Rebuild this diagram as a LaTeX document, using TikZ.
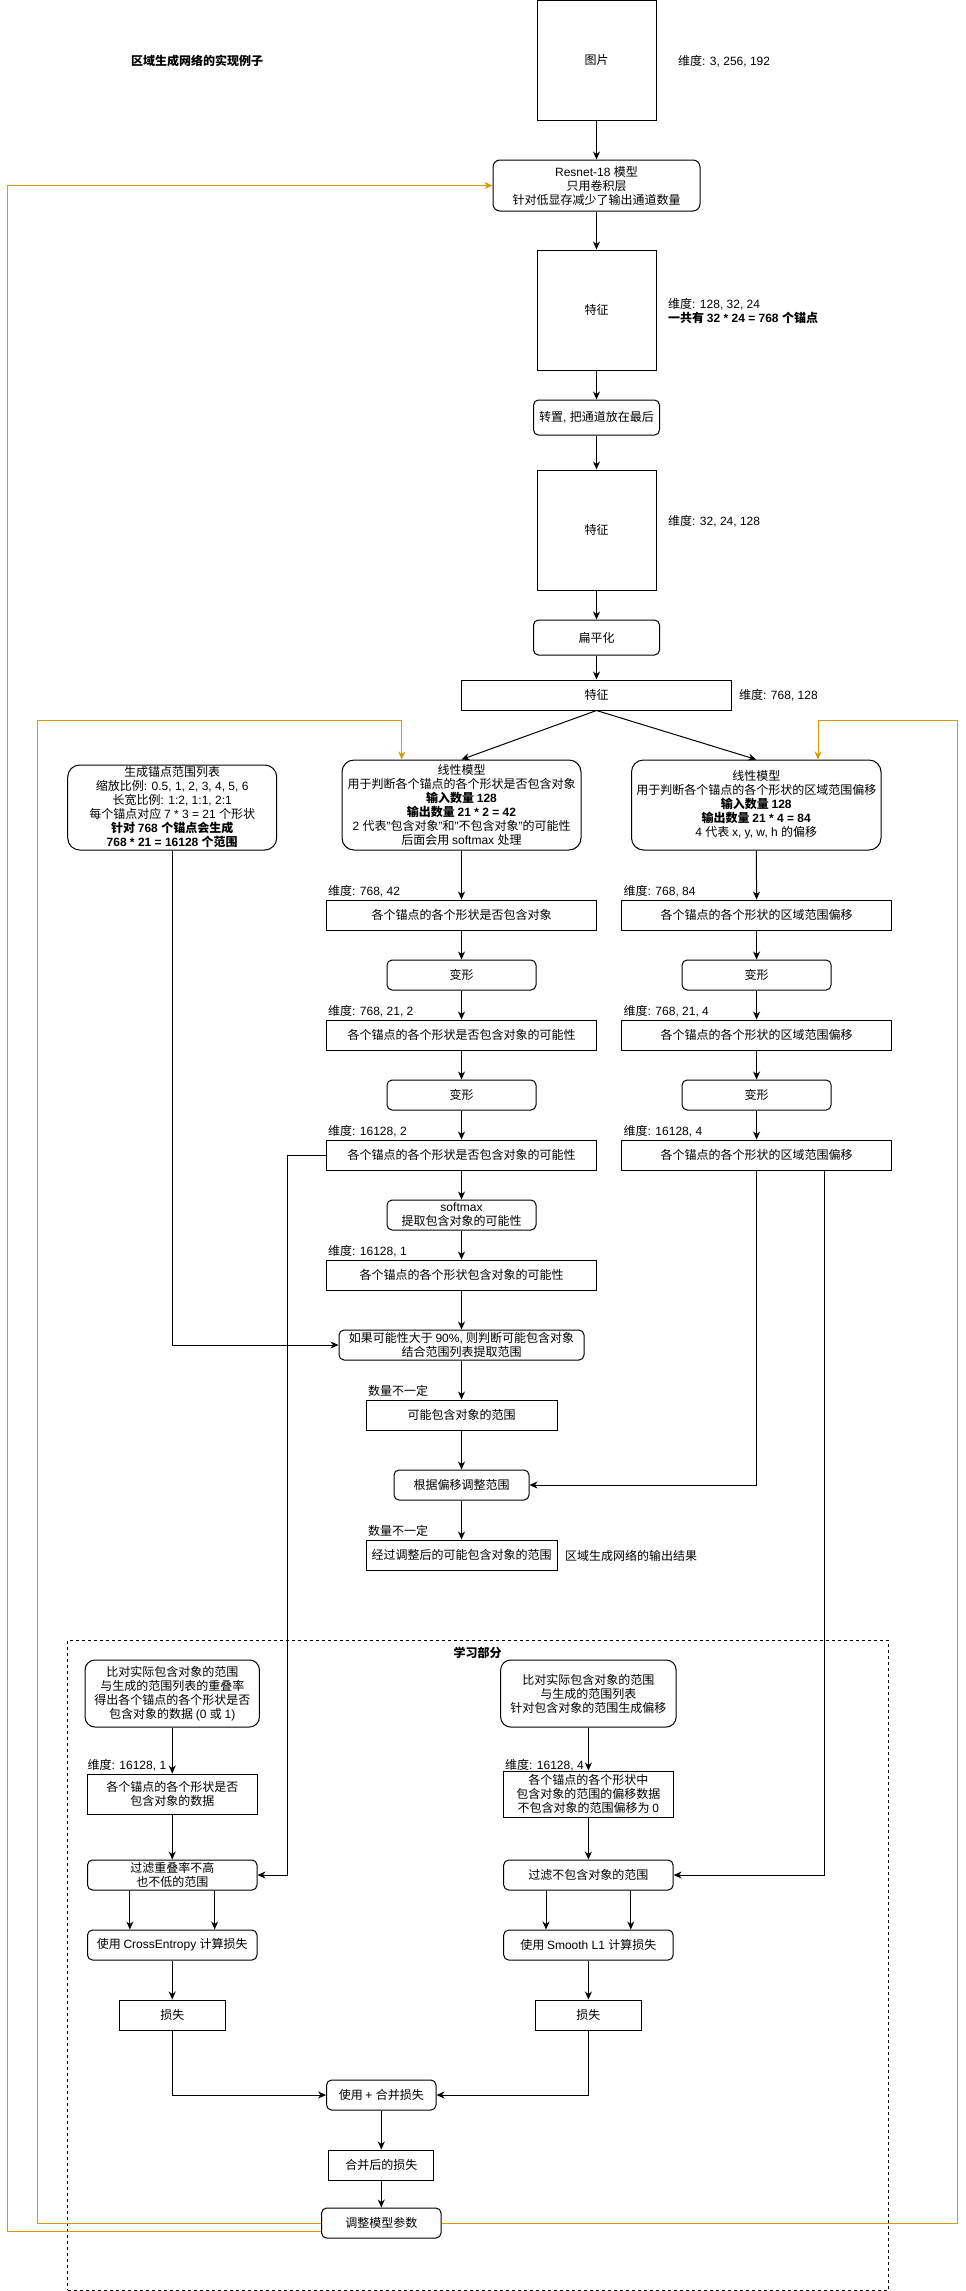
\documentclass[tikz,border=0pt]{standalone}
\usepackage{fontspec}
\setmainfont{Liberation Sans}
\newfontfamily\cjk{Noto Sans CJK SC}
\XeTeXinterchartokenstate=1
\newXeTeXintercharclass\CJKcls
\count255="4E00
\loop
  \XeTeXcharclass\count255=\CJKcls
  \ifnum\count255<"9FFF
  \advance\count255 by 1
\repeat
\XeTeXinterchartoks 0 \CJKcls = {\cjk}
\XeTeXinterchartoks 4095 \CJKcls = {\cjk}
\XeTeXinterchartoks \CJKcls 0 = {\rmfamily}
\XeTeXinterchartoks 4095 0 = {\rmfamily}
\usetikzlibrary{arrows.meta}
\definecolor{draworange}{HTML}{D79B00}
\tikzset{
  base/.style={font=\fontsize{12}{14}\selectfont, align=center, inner sep=0pt},
  box/.style={base, draw, line width=1pt, fill=white},
  rbox/.style={box, rounded corners=5pt},
  lbl/.style={base, anchor=west},
  arr/.style={line width=1pt, -{Stealth[length=8pt,width=7pt,inset=2.5pt]}},
  oline/.style={arr, draw=draworange},
}
\begin{document}
\begin{tikzpicture}[x=1pt,y=-1pt]
\useasboundingbox (0,0) rectangle (966,2291);
% learning group
\node[draw, dashed, line width=1pt, dash pattern=on 3pt off 3pt, minimum width=820.7pt, minimum height=650pt, inner sep=0pt] (learn) at (478.15,1965) {};
\node[base] (learntitle) at (477.5,1653) {\bfseries 学习部分};

\node[base] (title) at (197,61) {\bfseries 区域生成网络的实现例子};

% main column
\node[box, minimum width=119pt, minimum height=119.5pt] (img) at (596.5,60.25) {图片};
\node[lbl] (dimimg) at (678,61) {维度: 3, 256, 192};
\node[rbox, rounded corners=7pt, minimum width=207pt, minimum height=51pt] (resnet) at (596.5,185.5) {Resnet-18 模型\\只用卷积层\\针对低显存减少了输出通道数量};
\node[box, minimum width=119pt, minimum height=120pt] (feat1) at (596.5,310) {特征};
\node[lbl, align=left] (dimf1) at (668,311) {维度: 128, 32, 24\\\bfseries 一共有 32 * 24 = 768 个锚点};
\node[rbox, minimum width=126pt, minimum height=35pt] (trans) at (596.5,417.5) {转置, 把通道放在最后};
\node[box, minimum width=119pt, minimum height=120pt] (feat2) at (596.5,530) {特征};
\node[lbl] (dimf2) at (668,520.7) {维度: 32, 24, 128};
\node[rbox, minimum width=126pt, minimum height=35pt] (flat) at (596.5,637.5) {扁平化};
\node[box, minimum width=269.5pt, minimum height=30pt] (feat3) at (596.5,695) {特征};
\node[lbl] (dimf3) at (739,695) {维度: 768, 128};

% three top boxes
\node[rbox, rounded corners=12pt, minimum width=209pt, minimum height=85pt] (anchor) at (172.2,807.5) {生成锚点范围列表\\缩放比例: 0.5, 1, 2, 3, 4, 5, 6\\长宽比例: 1:2, 1:1, 2:1\\每个锚点对应 7 * 3 = 21 个形状\\\textbf{针对 768 个锚点会生成}\\\textbf{768 * 21 = 16128 个范围}};
\node[rbox, rounded corners=12pt, minimum width=239pt, minimum height=90pt] (linL) at (461.5,805) {线性模型\\用于判断各个锚点的各个形状是否包含对象\\\textbf{输入数量 128}\\\textbf{输出数量 21 * 2 = 42}\\2 代表"包含对象"和"不包含对象"的可能性\\后面会用 softmax 处理};
\node[rbox, rounded corners=12pt, minimum width=249.5pt, minimum height=90pt] (linR) at (756.25,805) {线性模型\\用于判断各个锚点的各个形状的区域范围偏移\\\textbf{输入数量 128}\\\textbf{输出数量 21 * 4 = 84}\\4 代表 x, y, w, h 的偏移};

% left column
\node[lbl] (dL1) at (328,891) {维度: 768, 42};
\node[box, minimum width=270pt, minimum height=30pt] (L1) at (461.5,915) {各个锚点的各个形状是否包含对象};
\node[rbox, minimum width=149pt, minimum height=30pt] (defL1) at (461.5,975) {变形};
\node[lbl] (dL2) at (328,1011) {维度: 768, 21, 2};
\node[box, minimum width=270pt, minimum height=30pt] (L2) at (461.5,1035) {各个锚点的各个形状是否包含对象的可能性};
\node[rbox, minimum width=149pt, minimum height=30pt] (defL2) at (461.5,1095) {变形};
\node[lbl] (dL3) at (328,1130.7) {维度: 16128, 2};
\node[box, minimum width=270pt, minimum height=30pt] (L3) at (461.5,1155) {各个锚点的各个形状是否包含对象的可能性};
\node[rbox, minimum width=149pt, minimum height=30pt] (soft) at (461.5,1215) {softmax\\提取包含对象的可能性};
\node[lbl] (dL4) at (328,1250.7) {维度: 16128, 1};
\node[box, minimum width=270pt, minimum height=30pt] (L4) at (461.5,1275) {各个锚点的各个形状包含对象的可能性};
\node[rbox, minimum width=245pt, minimum height=30pt] (ifbox) at (461.5,1345) {如果可能性大于 90\%, 则判断可能包含对象\\结合范围列表提取范围};
\node[lbl] (cnt1) at (368,1390.7) {数量不一定};
\node[box, minimum width=191pt, minimum height=30pt] (poss) at (461.5,1415) {可能包含对象的范围};
\node[rbox, minimum width=135pt, minimum height=30pt] (adj) at (461.5,1485) {根据偏移调整范围};
\node[lbl] (cnt2) at (368,1530.7) {数量不一定};
\node[box, minimum width=191pt, minimum height=30pt] (out) at (461.5,1555) {经过调整后的可能包含对象的范围};
\node[lbl] (outlbl) at (565,1556) {区域生成网络的输出结果};

% right column
\node[lbl] (dR1) at (623.5,891) {维度: 768, 84};
\node[box, minimum width=270pt, minimum height=30pt] (R1) at (756.6,915) {各个锚点的各个形状的区域范围偏移};
\node[rbox, minimum width=149pt, minimum height=30pt] (defR1) at (756.6,975) {变形};
\node[lbl] (dR2) at (623.5,1011) {维度: 768, 21, 4};
\node[box, minimum width=270pt, minimum height=30pt] (R2) at (756.6,1035) {各个锚点的各个形状的区域范围偏移};
\node[rbox, minimum width=149pt, minimum height=30pt] (defR2) at (756.6,1095) {变形};
\node[lbl] (dR3) at (623.5,1130.7) {维度: 16128, 4};
\node[box, minimum width=270pt, minimum height=30pt] (R3) at (756.6,1155) {各个锚点的各个形状的区域范围偏移};

% learning part
\node[rbox, rounded corners=10pt, minimum width=174.4pt, minimum height=67pt] (cmpL) at (172.25,1693.5) {比对实际包含对象的范围\\与生成的范围列表的重叠率\\得出各个锚点的各个形状是否\\包含对象的数据 (0 或 1)};
\node[rbox, rounded corners=10pt, minimum width=175.5pt, minimum height=67pt] (cmpR) at (588.4,1693.5) {比对实际包含对象的范围\\与生成的范围列表\\针对包含对象的范围生成偏移};
\node[lbl] (dLL) at (87.5,1764.7) {维度: 16128, 1};
\node[box, minimum width=169.5pt, minimum height=40pt] (dataL) at (172.25,1794) {各个锚点的各个形状是否\\包含对象的数据};
\node[lbl] (dRR) at (505,1764.7) {维度: 16128, 4};
\node[box, minimum width=169.4pt, minimum height=46pt] (dataR) at (588.4,1794) {各个锚点的各个形状中\\包含对象的范围的偏移数据\\不包含对象的范围偏移为 0};
\node[rbox, minimum width=169.5pt, minimum height=30pt] (filtL) at (172.25,1875) {过滤重叠率不高\\也不低的范围};
\node[rbox, minimum width=169.4pt, minimum height=30pt] (filtR) at (588.4,1875) {过滤不包含对象的范围};
\node[rbox, minimum width=169.5pt, minimum height=30pt] (ceL) at (172.25,1945) {使用 CrossEntropy 计算损失};
\node[rbox, minimum width=169.4pt, minimum height=30pt] (slR) at (588.4,1945) {使用 Smooth L1 计算损失};
\node[box, minimum width=105.5pt, minimum height=30pt] (lossL) at (172.25,2015) {损失};
\node[box, minimum width=106pt, minimum height=30pt] (lossR) at (588.4,2015) {损失};
\node[rbox, minimum width=109.4pt, minimum height=30pt] (merge) at (381.3,2095) {使用 + 合并损失};
\node[box, minimum width=104.8pt, minimum height=30pt] (merged) at (381.3,2165) {合并后的损失};
\node[rbox, minimum width=119.4pt, minimum height=30pt] (tune) at (381.3,2223) {调整模型参数};

% helper coordinates
\coordinate (oL) at (7.4,0);
\coordinate (oL2) at (37.6,720);
\coordinate (oR2) at (957,720);
\coordinate (jL) at (287.7,0);

% main connectors
\draw[arr] (img) -- (resnet);
\draw[arr] (resnet) -- (feat1);
\draw[arr] (feat1) -- (trans);
\draw[arr] (trans) -- (feat2);
\draw[arr] (feat2) -- (flat);
\draw[arr] (flat) -- (feat3);
\draw[arr] (feat3.south) -- (linL.north);
\draw[arr] (feat3.south) -- (linR.north);

\draw[arr] (linL) -- (L1);
\draw[arr] (L1) -- (defL1);
\draw[arr] (defL1) -- (L2);
\draw[arr] (L2) -- (defL2);
\draw[arr] (defL2) -- (L3);
\draw[arr] (L3) -- (soft);
\draw[arr] (soft) -- (L4);
\draw[arr] (L4) -- (ifbox);
\draw[arr] (ifbox) -- (poss);
\draw[arr] (poss) -- (adj);
\draw[arr] (adj) -- (out);

\draw[arr] (linR) -- (R1);
\draw[arr] (R1) -- (defR1);
\draw[arr] (defR1) -- (R2);
\draw[arr] (R2) -- (defR2);
\draw[arr] (defR2) -- (R3);

\draw[arr] (anchor.south) |- (ifbox.west);
\draw[arr] (R3.south) |- (adj.east);
\draw[arr] ([xshift=67.5pt]R3.south) |- (filtR.east);
\draw[arr] (L3.west) -- (L3.west -| jL) |- (filtL.east);

\draw[arr] (cmpL) -- (dataL);
\draw[arr] (dataL) -- (filtL);
\draw[arr] ([xshift=-42.4pt]filtL.south) -- ([xshift=-42.4pt]ceL.north);
\draw[arr] ([xshift=42.4pt]filtL.south) -- ([xshift=42.4pt]ceL.north);
\draw[arr] (ceL) -- (lossL);
\draw[arr] (lossL.south) |- (merge.west);

\draw[arr] (cmpR) -- (dataR);
\draw[arr] (dataR) -- (filtR);
\draw[arr] ([xshift=-42.4pt]filtR.south) -- ([xshift=-42.4pt]slR.north);
\draw[arr] ([xshift=42.4pt]filtR.south) -- ([xshift=42.4pt]slR.north);
\draw[arr] (slR) -- (lossR);
\draw[arr] (lossR.south) |- (merge.east);

\draw[arr] (merge) -- (merged);
\draw[arr] (merged) -- (tune);

% feedback (orange)
\draw[oline] ([yshift=-8pt]tune.west) -| (oL |- resnet.west) -- (resnet.west);
\draw[oline] (tune.west) -| (oL2) -| ([xshift=-59.75pt]linL.north);
\draw[oline] (tune.east) -| (oR2) -| ([xshift=61.75pt]linR.north);
\end{tikzpicture}
\end{document}
